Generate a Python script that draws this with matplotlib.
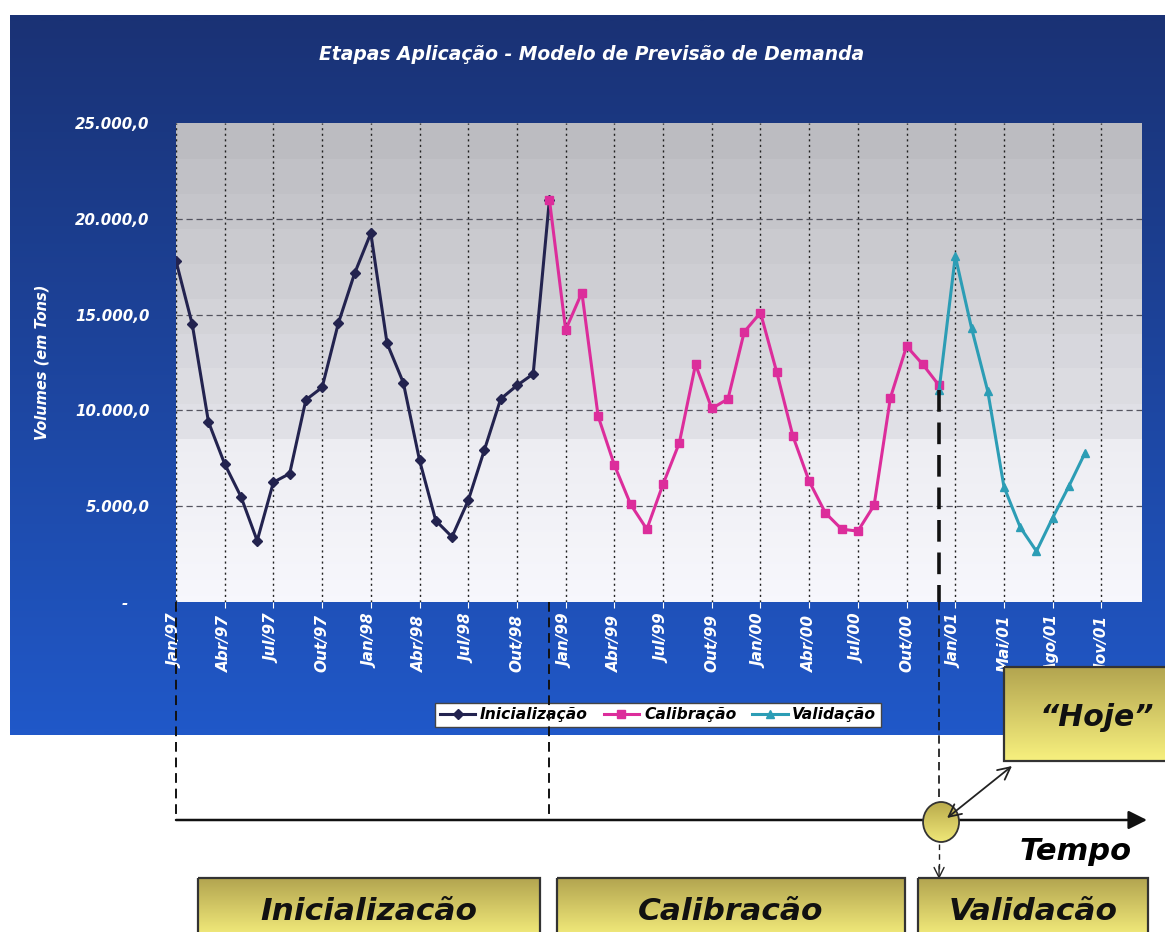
import matplotlib
matplotlib.use("Agg")
import numpy as np
import matplotlib.pyplot as plt
from matplotlib.colors import to_rgb
from matplotlib.patches import Rectangle, Ellipse

# ---- data -------------------------------------------------------------
month_labels = ["Jan/97", "Abr/97", "Jul/97", "Out/97", "Jan/98", "Abr/98",
                "Jul/98", "Out/98", "Jan/99", "Abr/99", "Jul/99", "Out/99",
                "Jan/00", "Abr/00", "Jul/00", "Out/00", "Jan/01", "Mai/01",
                "Ago/01", "Nov/01"]

inicializacao = [17800, 14500, 9400, 7200, 5500, 3200, 6250, 6700, 10550,
                 11200, 14550, 17150, 19250, 13500, 11450, 7400, 4250, 3400,
                 5300, 7950, 10600, 11300, 11900, 21000]
calibracao = [21000, 14200, 16150, 9700, 7150, 5100, 3800, 6150, 8300, 12400,
              10100, 10600, 14100, 15100, 12000, 8650, 6300, 4650, 3800, 3700,
              5050, 10650, 13350, 12400, 11300]
validacao = [11050, 18050, 14300, 11000, 6000, 3900, 2650, 4400, 6050, 7800]

y_ticks = [0, 5000, 10000, 15000, 20000, 25000]
stage_names = ["Inicializacão", "Calibracão", "Validacão"]

start_cal = len(inicializacao) - 1
start_val = start_cal + len(calibracao) - 1
x_ini = np.arange(0, len(inicializacao))
x_cal = np.arange(start_cal, start_cal + len(calibracao))
x_val = np.arange(start_val, start_val + len(validacao))

# ---- figure -----------------------------------------------------------
W, H = 1165, 932
fig = plt.figure(figsize=(W / 100, H / 100), dpi=100)
fig.patch.set_facecolor("white")

BOLD_IT = dict(fontweight="bold", fontstyle="italic",
               family=["DejaVu Sans", "Liberation Sans"])
HEAVY = dict(fontweight="bold", fontstyle="italic",
             family=["DejaVu Sans Condensed", "DejaVu Sans"])


def grad_image(ax, extent, top, bottom, n=64, zorder=0, clip=None):
    """Vertical gradient between two colours, optionally clipped."""
    t = np.linspace(0, 1, n)
    c0, c1 = np.array(to_rgb(top)), np.array(to_rgb(bottom))
    img = (c0[None, :] * (1 - t[:, None]) + c1[None, :] * t[:, None])[:, None, :]
    im = ax.imshow(img, extent=extent, aspect="auto", zorder=zorder,
                   interpolation="bilinear")
    if clip is not None:
        im.set_clip_path(clip)
    return im


# background layer (pixel coordinates)
bg = fig.add_axes([0, 0, 1, 1], zorder=0)
bg.axis("off")
panel = Rectangle((10, 15), W - 10, 720, transform=bg.transData)
grad_image(bg, (10, W, 735, 15), "#1a3275", "#2058c8", zorder=1, clip=panel)
bg.set_xlim(0, W)
bg.set_ylim(H, 0)

# chart axes
L, R, T, B = 176, 1142, 123, 602
ax = fig.add_axes([L / W, 1 - B / H, (R - L) / W, (B - T) / H], zorder=1)
ax.patch.set_visible(False)

# banded grey plot-area background
n_rows = 480
tt = np.linspace(0, 1, n_rows)
shade = np.where(tt < 0.66, 0.74 + 0.16 * np.floor(tt / 0.66 * 9) / 9,
                 0.93 + 0.04 * (tt - 0.66) / 0.34)
rgb = np.stack([shade, shade, shade + 0.02], axis=1).clip(0, 1)[:, None, :]
ax.imshow(rgb, extent=(0, 1, 0, 1), transform=ax.transAxes, aspect="auto",
          zorder=0, interpolation="nearest")

ax.set_xlim(0, 59.5)
ax.set_ylim(0, 25000)

tick_pos = np.arange(0, 3 * len(month_labels), 3)
ax.set_xticks(tick_pos)
ax.set_xticklabels(month_labels, rotation=90, color="white", fontsize=11,
                   va="top", ha="center", **BOLD_IT)


def fmt_br(v):
    if v == 0:
        return "-    "
    return f"{v:,.1f}".replace(",", "X").replace(".", ",").replace("X", ".")


ax.set_yticks(y_ticks)
ax.set_yticklabels([fmt_br(v) for v in y_ticks], color="white", fontsize=10.8,
                   **BOLD_IT)
ax.tick_params(axis="y", length=0, pad=19)
ax.tick_params(axis="x", length=4, color="white", pad=5)
for s in ax.spines.values():
    s.set_visible(False)

for x in tick_pos:
    ax.axvline(x, color="#222222", lw=1.0, ls=(0, (1.5, 2.5)), zorder=1)
for y in y_ticks[1:-1]:
    ax.axhline(y, color="#555560", lw=0.9, ls=(0, (5, 3)), zorder=1)

ax.plot(x_ini, inicializacao, color="#23234f", lw=2.2, marker="D", ms=5,
        label="Inicialização", zorder=3)
ax.plot(x_cal, calibracao, color="#dc2d9b", lw=2.2, marker="s", ms=6,
        label="Calibração", zorder=4)
ax.plot(x_val, validacao, color="#2c9db5", lw=2.2, marker="^", ms=6,
        label="Validação", zorder=5)

leg = ax.legend(loc="center", bbox_to_anchor=(658 / W, 1 - 715 / H),
                bbox_transform=fig.transFigure, ncol=3, frameon=True,
                fancybox=False, edgecolor="#444444", framealpha=1,
                prop=dict(weight="bold", style="italic", size=11.2,
                          family="DejaVu Sans"),
                handlelength=2.3, columnspacing=1.0, borderpad=0.3,
                handletextpad=0.3)
leg.get_frame().set_linewidth(1.0)

fig.text(592 / W, 1 - 55 / H, "Etapas Aplicação - Modelo de Previsão de Demanda",
         color="white", fontsize=13.5, ha="center", va="center", **BOLD_IT)
fig.text(42 / W, 1 - 362 / H, "Volumes (em Tons)", color="white", fontsize=10.5,
         rotation=90, ha="center", va="center", **BOLD_IT)

# ---- timeline overlay (pixel coordinates) ------------------------------
ov = fig.add_axes([0, 0, 1, 1], zorder=2)
ov.patch.set_visible(False)
ov.set_xlim(0, W)
ov.set_ylim(H, 0)
ov.axis("off")


def px_x(xdata):
    disp = ax.transData.transform((xdata, 0))
    return ov.transData.inverted().transform(disp)[0]


x0_px = px_x(x_ini[0])
xc_px = px_x(x_cal[0])
xv_px = px_x(x_val[0])
y_today_px = ov.transData.inverted().transform(ax.transData.transform((0, validacao[0])))[1]
y_axis_px = ov.transData.inverted().transform(ax.transData.transform((0, 0)))[1]
line_y = 820

for xp in (x0_px, xc_px):
    ov.plot([xp, xp], [y_axis_px, line_y], color="#111111", lw=1.4,
            ls=(0, (5, 3)), zorder=3)
ov.plot([xv_px, xv_px], [y_today_px, y_axis_px], color="#111111", lw=2.6,
        ls=(0, (6, 3)), zorder=3)
ov.plot([xv_px, xv_px], [y_axis_px, line_y - 18], color="#111111", lw=1.2,
        ls=(0, (5, 3)), zorder=3)

# time axis
ov.annotate("", xy=(1147, line_y), xytext=(x0_px, line_y),
            arrowprops=dict(arrowstyle="-|>", color="#111111", lw=1.8,
                            mutation_scale=28, shrinkA=0, shrinkB=0), zorder=3)
ov.text(1076, 851, "Tempo", fontsize=22, ha="center", va="center",
        color="black", **HEAVY)

# "today" marker
circ = Ellipse((xv_px + 2, line_y + 2), 36, 40, transform=ov.transData)
grad_image(ov, (xv_px - 18, xv_px + 22, line_y + 24, line_y - 20),
           "#b7a84a", "#f2ea7a", zorder=4, clip=circ)
ov.add_patch(Ellipse((xv_px + 2, line_y + 2), 36, 40, fill=False,
                     edgecolor="#333333", lw=1.3, zorder=5))
ov.plot([xv_px, xv_px], [line_y + 24, 872], color="#222222", lw=1.0,
        ls=(0, (4, 3)), zorder=5)
ov.annotate("", xy=(xv_px, 879), xytext=(xv_px, 866),
            arrowprops=dict(arrowstyle="->", color="#222222", lw=1.0,
                            mutation_scale=18, shrinkA=0, shrinkB=0), zorder=5)
ov.annotate("", xy=(1012, 766), xytext=(xv_px + 8, line_y - 2),
            arrowprops=dict(arrowstyle="<->", color="#222222", lw=1.3,
                            mutation_scale=22, shrinkA=0, shrinkB=0), zorder=6)


def stage_box(x0, y0, x1, y1, label, size, cx=None):
    rect = Rectangle((x0, y0), x1 - x0, y1 - y0, transform=ov.transData)
    grad_image(ov, (x0, x1, y1, y0), "#b3a550", "#f7f07e", zorder=4, clip=rect)
    ov.add_patch(Rectangle((x0, y0), x1 - x0, y1 - y0, fill=False,
                           edgecolor="#333333", lw=1.6, zorder=5))
    ov.text((x0 + x1) / 2 if cx is None else cx, (y0 + y1) / 2 + 3, label,
            fontsize=size, ha="center", va="center", color="#111111",
            zorder=6, **HEAVY)


stage_box(1004, 667, W + 2, 761, "“Hoje”", 21.5, cx=1097)
stage_box(198, 878, 540, 940, stage_names[0], 22.5)
stage_box(557, 878, 905, 940, stage_names[1], 22.5)
stage_box(918, 878, 1148, 940, stage_names[2], 22.5)

ov.set_xlim(0, W)
ov.set_ylim(H, 0)

fig.savefig("out.png", dpi=100, facecolor="white")
